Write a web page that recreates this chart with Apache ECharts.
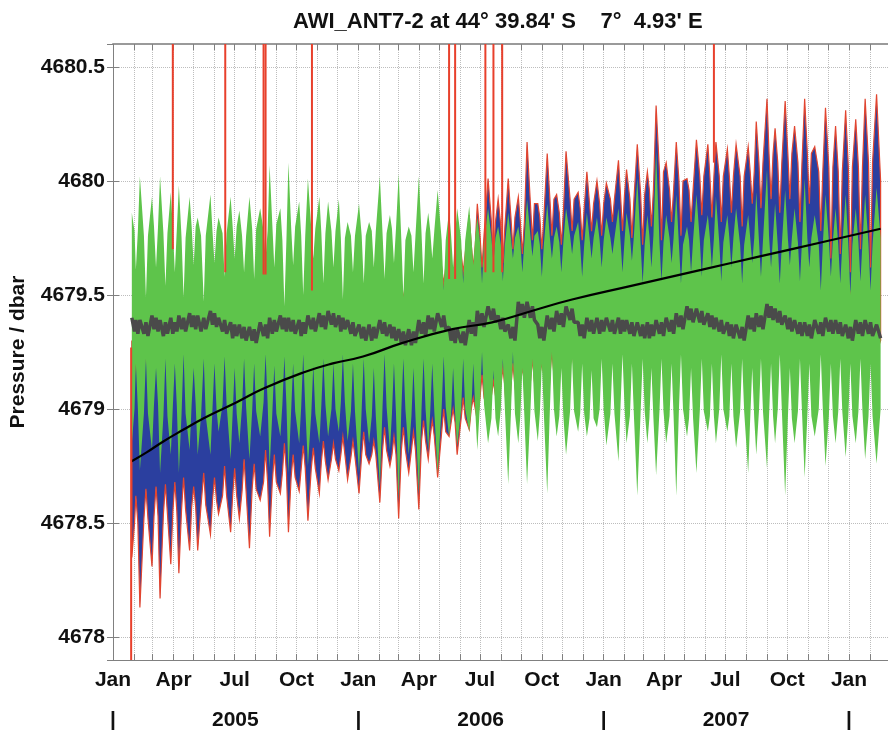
<!DOCTYPE html>
<html>
<head>
<meta charset="utf-8">
<title>AWI_ANT7-2</title>
<script src="https://cdn.jsdelivr.net/npm/echarts@6.0.0/dist/echarts.min.js"></script>
<style>
    html, body { margin: 0; padding: 0; background: #fff; }
    #chart { width: 888px; height: 731px; }
</style>
</head>
<body>
<div id="chart"></div>
<script>
    // x values are days since 1 Jan 2005
    // tidal envelope read at each spring tide (last entry = end of record)
    var springDay = [
        28, 40, 58, 70, 86, 98, 114, 126, 145, 157, 175, 188, 203, 219, 233, 249, 261, 277, 290, 307,
        320, 336, 349, 366, 381, 397, 412, 425, 440, 455, 469, 483, 500, 512, 530, 542, 558, 573, 588, 603,
        616, 632, 646, 660, 674, 692, 705, 720, 734, 752, 764, 780, 795, 808, 823, 838, 854, 868, 885, 897,
        914, 927, 945, 957, 973, 985, 1000, 1014, 1029, 1044, 1060, 1075, 1090, 1105, 1119, 1136, 1142
    ];
    // neap tides, with the start and end of each neap notch
    var neapDay = [
        34, 49, 64, 78, 92, 105, 120, 135, 151, 166, 181, 195, 210, 227, 240, 255, 268, 283, 298, 313,
        328, 342, 357, 373, 388, 404, 418, 432, 447, 462, 475, 492, 506, 521, 536, 549, 566, 580, 595, 609,
        624, 638, 653, 667, 683, 698, 712, 727, 743, 758, 772, 788, 801, 816, 831, 845, 860, 876, 891, 905,
        920, 936, 951, 964, 979, 992, 1007, 1022, 1036, 1053, 1068, 1082, 1097, 1112, 1127
    ];
    var neapStart = [
        32, 46, 61, 75, 89, 102, 117, 131, 148, 163, 178, 192, 207, 224, 237, 252, 265, 280, 295, 310,
        325, 339, 354, 370, 385, 401, 415, 429, 444, 459, 472, 489, 503, 518, 533, 546, 563, 577, 592, 606,
        621, 635, 650, 664, 680, 695, 709, 724, 740, 755, 769, 785, 798, 813, 828, 842, 857, 873, 888, 902,
        917, 933, 948, 961, 976, 989, 1004, 1019, 1033, 1050, 1065, 1079, 1094, 1109, 1124
    ];
    var neapEnd = [
        37, 52, 67, 81, 95, 108, 123, 138, 154, 169, 184, 198, 213, 230, 243, 258, 271, 286, 301, 316,
        331, 345, 360, 376, 391, 407, 421, 435, 450, 465, 478, 495, 509, 524, 539, 552, 569, 583, 598, 612,
        627, 641, 656, 670, 686, 701, 715, 730, 746, 761, 775, 791, 804, 819, 834, 848, 863, 879, 894, 908,
        923, 939, 954, 967, 982, 995, 1010, 1025, 1039, 1056, 1071, 1085, 1100, 1115, 1130
    ];

    // detrended pressure (green): spring, neap and shoulder values
    var greenHiS = [
        4679.86, 4680.02, 4679.93, 4680.02, 4679.95, 4679.98, 4679.93, 4679.84, 4679.94, 4679.84,
        4679.93, 4679.87, 4679.93, 4679.88, 4680.07, 4679.88, 4680.08, 4679.91, 4680.01, 4679.93,
        4679.91, 4679.92, 4679.82, 4679.90, 4679.82, 4680.02, 4679.85, 4680.03, 4679.80, 4680.02,
        4679.86, 4679.96, 4679.87, 4679.88, 4679.89, 4679.84, 4679.88, 4679.80, 4679.86, 4679.80,
        4679.92, 4679.78, 4679.90, 4679.80, 4679.88, 4679.82, 4679.86, 4679.84, 4679.84, 4679.88,
        4679.86, 4680.01, 4679.85, 4680.13, 4679.85, 4679.94, 4679.80, 4679.94, 4679.85, 4679.93,
        4679.85, 4679.88, 4679.85, 4679.95, 4680.05, 4679.90, 4679.96, 4679.88, 4680.01, 4679.85,
        4679.94, 4679.88, 4679.94, 4679.88, 4679.94, 4679.97, 4679.75
    ];
    var greenHiN = [
        4679.61, 4679.49, 4679.62, 4679.54, 4679.60, 4679.49, 4679.63, 4679.47, 4679.64, 4679.58,
        4679.66, 4679.60, 4679.57, 4679.66, 4679.62, 4679.45, 4679.63, 4679.50, 4679.66, 4679.55,
        4679.62, 4679.48, 4679.60, 4679.55, 4679.62, 4679.57, 4679.64, 4679.49, 4679.60, 4679.55,
        4679.66, 4679.52, 4679.62, 4679.55, 4679.63, 4679.55, 4679.64, 4679.56, 4679.66, 4679.60,
        4679.67, 4679.58, 4679.66, 4679.60, 4679.68, 4679.58, 4679.66, 4679.62, 4679.68, 4679.60,
        4679.65, 4679.55, 4679.62, 4679.56, 4679.64, 4679.55, 4679.60, 4679.58, 4679.62, 4679.56,
        4679.62, 4679.55, 4679.64, 4679.58, 4679.62, 4679.55, 4679.63, 4679.56, 4679.62, 4679.52,
        4679.58, 4679.55, 4679.50, 4679.56, 4679.52
    ];
    var greenHiP = [
        4679.78, 4679.76, 4679.80, 4679.77, 4679.79, 4679.75, 4679.80, 4679.76, 4679.78, 4679.77,
        4679.80, 4679.76, 4679.79, 4679.78, 4679.81, 4679.74, 4679.80, 4679.76, 4679.79, 4679.77,
        4679.78, 4679.75, 4679.76, 4679.76, 4679.78, 4679.77, 4679.79, 4679.74, 4679.76, 4679.77,
        4679.78, 4679.74, 4679.76, 4679.74, 4679.76, 4679.73, 4679.75, 4679.72, 4679.75, 4679.73,
        4679.76, 4679.72, 4679.75, 4679.73, 4679.76, 4679.72, 4679.75, 4679.74, 4679.75, 4679.74,
        4679.76, 4679.72, 4679.76, 4679.73, 4679.75, 4679.72, 4679.74, 4679.74, 4679.75, 4679.73,
        4679.75, 4679.72, 4679.75, 4679.74, 4679.76, 4679.72, 4679.75, 4679.73, 4679.75, 4679.72,
        4679.74, 4679.72, 4679.72, 4679.73, 4679.72
    ];
    var greenLoS = [
        4678.85, 4678.73, 4678.82, 4678.72, 4678.80, 4678.72, 4678.82, 4678.80, 4678.80, 4678.90,
        4678.78, 4678.85, 4678.78, 4678.88, 4678.74, 4678.88, 4678.72, 4678.85, 4678.75, 4678.85,
        4678.88, 4678.90, 4678.86, 4678.72, 4678.85, 4678.66, 4678.82, 4678.60, 4678.80, 4678.63,
        4678.82, 4678.72, 4678.88, 4678.84, 4678.90, 4678.82, 4678.85, 4678.88, 4678.67, 4678.85,
        4678.67, 4678.86, 4678.63, 4678.88, 4678.80, 4678.90, 4678.88, 4678.92, 4678.84, 4678.77,
        4678.85, 4678.62, 4678.85, 4678.71, 4678.85, 4678.62, 4678.88, 4678.72, 4678.90, 4678.85,
        4678.90, 4678.83, 4678.72, 4678.80, 4678.74, 4678.85, 4678.62, 4678.85, 4678.70, 4678.88,
        4678.75, 4678.85, 4678.79, 4678.85, 4678.78, 4678.76, 4679.00
    ];
    var greenLoN = [
        4679.20, 4679.22, 4679.18, 4679.22, 4679.20, 4679.24, 4679.18, 4679.22, 4679.20, 4679.23,
        4679.18, 4679.22, 4679.20, 4679.24, 4679.19, 4679.23, 4679.20, 4679.24, 4679.19, 4679.22,
        4679.20, 4679.24, 4679.20, 4679.22, 4679.18, 4679.24, 4679.20, 4679.22, 4679.18, 4679.22,
        4679.20, 4679.23, 4679.18, 4679.22, 4679.20, 4679.25, 4679.17, 4679.22, 4679.25, 4679.18,
        4679.22, 4679.20, 4679.25, 4679.18, 4679.22, 4679.20, 4679.17, 4679.22, 4679.20, 4679.24,
        4679.20, 4679.22, 4679.18, 4679.22, 4679.20, 4679.24, 4679.18, 4679.22, 4679.20, 4679.24,
        4679.20, 4679.22, 4679.18, 4679.22, 4679.20, 4679.24, 4679.18, 4679.22, 4679.20, 4679.24,
        4679.20, 4679.22, 4679.20, 4679.22, 4679.20
    ];
    var greenLoP = [
        4679.00, 4678.98, 4679.02, 4678.97, 4679.01, 4678.98, 4679.02, 4678.97, 4679.00, 4679.02,
        4678.98, 4679.01, 4678.99, 4679.03, 4678.98, 4679.02, 4678.99, 4679.01, 4678.98, 4679.02,
        4679.00, 4679.03, 4678.99, 4679.00, 4678.97, 4679.01, 4678.98, 4679.00, 4678.97, 4679.00,
        4678.99, 4679.01, 4678.98, 4679.00, 4678.99, 4679.02, 4678.96, 4679.00, 4678.98, 4678.97,
        4678.99, 4678.98, 4679.00, 4678.97, 4678.99, 4678.98, 4678.96, 4679.00, 4678.98, 4679.01,
        4678.97, 4678.99, 4678.96, 4678.99, 4678.97, 4679.00, 4678.96, 4678.99, 4678.97, 4679.00,
        4678.97, 4678.99, 4678.96, 4678.99, 4678.97, 4679.00, 4678.96, 4678.99, 4678.97, 4679.00,
        4678.97, 4678.99, 4678.97, 4678.99, 4678.97
    ];

    // measured pressure (blue)
    var blueHiS = [
        4679.30, 4679.35, 4679.32, 4679.38, 4679.35, 4679.38, 4679.36, 4679.38, 4679.40, 4679.40,
        4679.42, 4679.42, 4679.45, 4679.45, 4679.48, 4679.48, 4679.50, 4679.50, 4679.52, 4679.52,
        4679.55, 4679.55, 4679.55, 4679.60, 4679.60, 4679.65, 4679.62, 4679.68, 4679.62, 4679.72,
        4679.68, 4679.75, 4679.75, 4679.80, 4679.85, 4679.90, 4680.01, 4679.92, 4680.01, 4679.93,
        4680.17, 4679.90, 4680.12, 4679.94, 4680.13, 4679.95, 4680.04, 4680.00, 4679.99, 4680.09,
        4680.05, 4680.16, 4680.04, 4680.33, 4680.08, 4680.17, 4680.01, 4680.18, 4680.16, 4680.17,
        4680.14, 4680.16, 4680.15, 4680.26, 4680.36, 4680.23, 4680.35, 4680.24, 4680.36, 4680.15,
        4680.32, 4680.24, 4680.31, 4680.27, 4680.36, 4680.38, 4680.00
    ];
    var blueHiN = [
        4679.25, 4679.27, 4679.24, 4679.28, 4679.26, 4679.30, 4679.25, 4679.30, 4679.28, 4679.32,
        4679.27, 4679.33, 4679.30, 4679.35, 4679.30, 4679.36, 4679.32, 4679.38, 4679.35, 4679.40,
        4679.38, 4679.42, 4679.40, 4679.42, 4679.40, 4679.45, 4679.45, 4679.48, 4679.46, 4679.50,
        4679.52, 4679.55, 4679.56, 4679.60, 4679.62, 4679.62, 4679.66, 4679.64, 4679.70, 4679.68,
        4679.74, 4679.70, 4679.76, 4679.72, 4679.78, 4679.74, 4679.78, 4679.76, 4679.82, 4679.78,
        4679.75, 4679.72, 4679.80, 4679.74, 4679.82, 4679.76, 4679.82, 4679.85, 4679.84, 4679.82,
        4679.86, 4679.80, 4679.90, 4679.88, 4679.92, 4679.86, 4679.92, 4679.82, 4679.90, 4679.78,
        4679.66, 4679.68, 4679.60, 4679.70, 4679.62
    ];
    var blueHiP = [
        4679.15, 4679.17, 4679.18, 4679.20, 4679.20, 4679.22, 4679.22, 4679.24, 4679.25, 4679.27,
        4679.28, 4679.30, 4679.30, 4679.32, 4679.33, 4679.35, 4679.36, 4679.38, 4679.40, 4679.42,
        4679.43, 4679.45, 4679.46, 4679.48, 4679.50, 4679.52, 4679.53, 4679.55, 4679.56, 4679.58,
        4679.60, 4679.62, 4679.64, 4679.68, 4679.72, 4679.76, 4679.82, 4679.80, 4679.84, 4679.82,
        4679.90, 4679.84, 4679.92, 4679.86, 4679.92, 4679.88, 4679.90, 4679.90, 4679.92, 4679.94,
        4679.92, 4679.94, 4679.96, 4680.04, 4679.96, 4680.00, 4679.96, 4680.02, 4680.02, 4680.02,
        4680.02, 4680.02, 4680.04, 4680.08, 4680.12, 4680.08, 4680.12, 4680.08, 4680.12, 4680.04,
        4680.06, 4680.04, 4680.06, 4680.06, 4680.08
    ];
    var blueLoS = [
        4678.35, 4678.13, 4678.31, 4678.17, 4678.32, 4678.28, 4678.38, 4678.38, 4678.45, 4678.54,
        4678.46, 4678.52, 4678.39, 4678.60, 4678.44, 4678.63, 4678.46, 4678.64, 4678.51, 4678.63,
        4678.69, 4678.73, 4678.69, 4678.63, 4678.76, 4678.59, 4678.75, 4678.52, 4678.72, 4678.56,
        4678.78, 4678.70, 4678.88, 4678.80, 4678.91, 4678.95, 4678.98, 4679.00, 4678.85, 4679.00,
        4678.90, 4679.00, 4678.90, 4679.05, 4679.00, 4679.08, 4679.05, 4679.10, 4679.05, 4679.00,
        4679.10, 4679.00, 4679.15, 4679.05, 4679.20, 4679.00, 4679.20, 4679.10, 4679.25, 4679.20,
        4679.25, 4679.20, 4679.15, 4679.20, 4679.15, 4679.25, 4679.10, 4679.25, 4679.15, 4679.30,
        4679.20, 4679.30, 4679.20, 4679.30, 4679.25, 4679.25, 4679.30
    ];
    var blueLoN = [
        4678.62, 4678.65, 4678.66, 4678.67, 4678.68, 4678.70, 4678.66, 4678.72, 4678.70, 4678.75,
        4678.74, 4678.78, 4678.76, 4678.82, 4678.80, 4678.85, 4678.80, 4678.84, 4678.83, 4678.86,
        4678.85, 4678.88, 4678.86, 4678.90, 4678.86, 4678.92, 4678.88, 4678.92, 4678.90, 4678.95,
        4678.95, 4679.00, 4679.00, 4679.05, 4679.05, 4679.15, 4679.12, 4679.18, 4679.20, 4679.18,
        4679.22, 4679.20, 4679.25, 4679.20, 4679.25, 4679.25, 4679.25, 4679.28, 4679.30, 4679.30,
        4679.30, 4679.32, 4679.30, 4679.35, 4679.32, 4679.35, 4679.35, 4679.40, 4679.40, 4679.42,
        4679.42, 4679.42, 4679.45, 4679.45, 4679.45, 4679.48, 4679.48, 4679.50, 4679.50, 4679.50,
        4679.50, 4679.52, 4679.50, 4679.52, 4679.50
    ];
    var blueLoP = [
        4678.50, 4678.52, 4678.53, 4678.54, 4678.55, 4678.56, 4678.57, 4678.58, 4678.60, 4678.62,
        4678.62, 4678.64, 4678.65, 4678.68, 4678.68, 4678.72, 4678.70, 4678.74, 4678.74, 4678.77,
        4678.78, 4678.80, 4678.79, 4678.80, 4678.80, 4678.82, 4678.80, 4678.82, 4678.82, 4678.86,
        4678.88, 4678.90, 4678.94, 4678.96, 4679.00, 4679.05, 4679.06, 4679.10, 4679.10, 4679.12,
        4679.12, 4679.15, 4679.15, 4679.16, 4679.18, 4679.20, 4679.20, 4679.22, 4679.22, 4679.22,
        4679.24, 4679.24, 4679.26, 4679.26, 4679.28, 4679.26, 4679.30, 4679.30, 4679.32, 4679.34,
        4679.34, 4679.34, 4679.35, 4679.36, 4679.36, 4679.38, 4679.38, 4679.40, 4679.40, 4679.42,
        4679.42, 4679.44, 4679.42, 4679.44, 4679.42
    ];

    // detided residual (grey), one value per point of the tide grid
    var residVal = [
        4679.40, 4679.34, 4679.39, 4679.33, 4679.39, 4679.33, 4679.38, 4679.32, 4679.41, 4679.35, 4679.40, 4679.34, 4679.39, 4679.32, 4679.38, 4679.33,
        4679.40, 4679.33, 4679.38, 4679.34, 4679.41, 4679.35, 4679.40, 4679.34, 4679.42, 4679.36, 4679.41, 4679.35, 4679.41, 4679.34, 4679.40, 4679.35,
        4679.43, 4679.37, 4679.42, 4679.36, 4679.40, 4679.34, 4679.39, 4679.33, 4679.38, 4679.31, 4679.37, 4679.32, 4679.37, 4679.31, 4679.36, 4679.30,
        4679.36, 4679.30, 4679.35, 4679.29, 4679.38, 4679.32, 4679.37, 4679.31, 4679.40, 4679.33, 4679.39, 4679.34, 4679.41, 4679.35, 4679.40, 4679.34,
        4679.40, 4679.34, 4679.39, 4679.33, 4679.39, 4679.32, 4679.38, 4679.33, 4679.41, 4679.35, 4679.40, 4679.34, 4679.42, 4679.36, 4679.41, 4679.35,
        4679.43, 4679.37, 4679.42, 4679.36, 4679.41, 4679.34, 4679.40, 4679.35, 4679.39, 4679.33, 4679.38, 4679.32, 4679.37, 4679.31, 4679.36, 4679.30,
        4679.37, 4679.30, 4679.36, 4679.31, 4679.39, 4679.33, 4679.38, 4679.32, 4679.37, 4679.31, 4679.36, 4679.30, 4679.35, 4679.29, 4679.34, 4679.28,
        4679.35, 4679.28, 4679.34, 4679.29, 4679.39, 4679.33, 4679.38, 4679.32, 4679.41, 4679.35, 4679.40, 4679.34, 4679.42, 4679.36, 4679.41, 4679.35,
        4679.36, 4679.30, 4679.35, 4679.29, 4679.35, 4679.29, 4679.34, 4679.28, 4679.39, 4679.33, 4679.38, 4679.32, 4679.43, 4679.37, 4679.42, 4679.36,
        4679.45, 4679.39, 4679.44, 4679.38, 4679.41, 4679.35, 4679.40, 4679.34, 4679.37, 4679.31, 4679.36, 4679.30, 4679.47, 4679.41, 4679.46, 4679.40,
        4679.47, 4679.40, 4679.45, 4679.39, 4679.37, 4679.31, 4679.36, 4679.30, 4679.41, 4679.35, 4679.40, 4679.34, 4679.43, 4679.37, 4679.42, 4679.36,
        4679.45, 4679.39, 4679.44, 4679.38, 4679.38, 4679.32, 4679.37, 4679.31, 4679.40, 4679.34, 4679.39, 4679.33, 4679.40, 4679.33, 4679.39, 4679.34,
        4679.40, 4679.34, 4679.39, 4679.33, 4679.40, 4679.33, 4679.39, 4679.34, 4679.39, 4679.33, 4679.38, 4679.32, 4679.38, 4679.32, 4679.37, 4679.31,
        4679.38, 4679.31, 4679.37, 4679.32, 4679.39, 4679.33, 4679.38, 4679.32, 4679.40, 4679.34, 4679.39, 4679.33, 4679.42, 4679.36, 4679.41, 4679.35,
        4679.45, 4679.39, 4679.44, 4679.38, 4679.44, 4679.38, 4679.43, 4679.37, 4679.42, 4679.36, 4679.41, 4679.35, 4679.40, 4679.34, 4679.39, 4679.33,
        4679.38, 4679.32, 4679.37, 4679.31, 4679.37, 4679.31, 4679.36, 4679.30, 4679.41, 4679.35, 4679.40, 4679.34, 4679.42, 4679.36, 4679.41, 4679.35,
        4679.46, 4679.40, 4679.45, 4679.39, 4679.44, 4679.38, 4679.43, 4679.37, 4679.41, 4679.35, 4679.40, 4679.34, 4679.39, 4679.33, 4679.38, 4679.32,
        4679.38, 4679.32, 4679.37, 4679.31, 4679.39, 4679.33, 4679.38, 4679.32, 4679.40, 4679.34, 4679.39, 4679.33, 4679.39, 4679.33, 4679.38, 4679.32,
        4679.37, 4679.31, 4679.36, 4679.30, 4679.39, 4679.33, 4679.38, 4679.32, 4679.39, 4679.33, 4679.38, 4679.32,
        4679.37, 4679.31
    ];

    // fitted drift (black)
    var trendDay = [27, 50, 76, 105, 135, 184, 224, 283, 327, 372, 431, 505, 564, 623, 683, 771, 875, 964, 1053, 1142];
    var trendVal = [4678.77, 4678.81, 4678.86, 4678.91, 4678.96, 4679.03, 4679.09, 4679.16, 4679.20, 4679.23,
        4679.29, 4679.35, 4679.38, 4679.43, 4679.48, 4679.54, 4679.61, 4679.67, 4679.73, 4679.79];

    // raw outliers (red vertical lines)
    var spikeDay = [27, 89, 167, 224, 227, 296, 500, 509, 554, 566, 579, 894];
    var spikeLow = [4677.8, 4679.70, 4679.60, 4679.59, 4679.59, 4679.52, 4679.57, 4679.57, 4679.60, 4679.60, 4679.60, 4680.08];
    var spikeHigh = [4679.27, 4681, 4681, 4681, 4681, 4681, 4681, 4681, 4681, 4681, 4681, 4681];

    var monthNames = ['Jan', 'Feb', 'Mar', 'Apr', 'May', 'Jun', 'Jul', 'Aug', 'Sep', 'Oct', 'Nov', 'Dec'];
    var yearTickDay = [0, 182, 365, 547, 730, 912, 1095];
    var yearTickText = ['|', '2005', '|', '2006', '|', '2007', '|'];

    var DAY = 86400000;
    var T0 = Date.UTC(2005, 0, 1);
    var X_MAX = 1153;

    var monthDays = [];
    var quarterDays = [];
    for (var y = 2005; y <= 2008; y++) {
        for (var m = 0; m < 12; m++) {
            var md = (Date.UTC(y, m, 1) - T0) / DAY;
            if (md > X_MAX) break;
            monthDays.push(md);
            if (m % 3 === 0) quarterDays.push(md);
        }
    }

    // put spring, shoulder, neap, shoulder in time order
    function merge(s, n, p) {
        var out = [];
        for (var i = 0; i < s.length; i++) {
            out.push(s[i]);
            if (i < n.length) {
                out.push(p[i], n[i], p[i]);
            }
        }
        return out;
    }
    var tideDay = [];
    for (var k = 0; k < springDay.length; k++) {
        tideDay.push(springDay[k]);
        if (k < neapDay.length) {
            tideDay.push(neapStart[k], neapDay[k], neapEnd[k]);
        }
    }
    var greenHi = merge(greenHiS, greenHiN, greenHiP);
    var greenLo = merge(greenLoS, greenLoN, greenLoP);
    var blueHi = merge(blueHiS, blueHiN, blueHiP);
    var blueLo = merge(blueLoS, blueLoN, blueLoP);

    var font = "'Liberation Sans', Arial, Helvetica, sans-serif";
    var txt = {fontFamily: font, fontSize: 21, fontWeight: 'bold', color: '#111'};
    var axisGrey = '#808080';

    function band(hi, lo, fill, stroke) {
        return function (params, api) {
            if (params.dataIndex !== 0) return null;
            var pts = [];
            for (var i = 0; i < tideDay.length; i++) {
                pts.push(api.coord([tideDay[i], hi[i]]));
            }
            for (var j = tideDay.length - 1; j >= 0; j--) {
                pts.push(api.coord([tideDay[j], lo[j]]));
            }
            return {
                type: 'polygon',
                shape: {points: pts},
                style: {fill: fill, stroke: stroke || null, lineWidth: stroke ? 1.2 : 0}
            };
        };
    }

    var chart = echarts.init(document.getElementById('chart'));

    var option = {
        animation: false,
        backgroundColor: '#fff',
        title: {
            text: "AWI_ANT7-2 at 44° 39.84' S    7°  4.93' E",
            left: 288,
            top: 6,
            textStyle: {fontFamily: font, fontSize: 22, fontWeight: 'bold', color: '#111'}
        },
        grid: {left: 109, right: 0, top: 44, bottom: 71},
        xAxis: [{
            type: 'value',
            min: 0,
            max: X_MAX,
            position: 'bottom',
            axisLine: {lineStyle: {color: axisGrey, width: 1}},
            axisTick: {inside: true, length: 6, customValues: monthDays, lineStyle: {color: axisGrey}},
            axisLabel: Object.assign({
                customValues: quarterDays,
                margin: 10,
                formatter: function (v) {
                    return monthNames[new Date(T0 + v * DAY).getUTCMonth()];
                }
            }, txt),
            splitLine: {show: true, lineStyle: {color: '#bdbdbd', type: 'dotted', width: 1}}
        }, {
            type: 'value',
            min: 0,
            max: X_MAX,
            position: 'bottom',
            offset: 40,
            axisLine: {show: false},
            axisTick: {show: false},
            splitLine: {show: false},
            axisLabel: Object.assign({
                customValues: yearTickDay,
                margin: 10,
                formatter: function (v) {
                    var k = yearTickDay.indexOf(Math.round(v));
                    return k >= 0 ? yearTickText[k] : '';
                }
            }, txt)
        }, {
            type: 'value',
            min: 0,
            max: X_MAX,
            position: 'top',
            axisLine: {lineStyle: {color: '#9a9a9a', width: 2}},
            axisTick: {inside: true, length: 6, customValues: monthDays, lineStyle: {color: axisGrey}},
            axisLabel: {show: false},
            splitLine: {show: false}
        }],
        yAxis: [{
            type: 'value',
            min: 4677.9,
            max: 4680.6,
            position: 'left',
            name: 'Pressure / dbar',
            nameLocation: 'middle',
            nameGap: 84,
            nameTextStyle: {fontFamily: font, fontSize: 21, fontWeight: 'bold', color: '#111'},
            axisLine: {show: true, lineStyle: {color: axisGrey, width: 1}},
            axisTick: {show: true, inside: true, length: 6, lineStyle: {color: axisGrey}},
            axisLabel: Object.assign({
                margin: 8,
                showMinLabel: false,
                showMaxLabel: false,
                formatter: function (v) {
                    return String(+v.toFixed(1));
                }
            }, txt),
            splitLine: {show: true, lineStyle: {color: '#bdbdbd', type: 'dotted', width: 1}}
        }, {
            type: 'value',
            min: 4677.9,
            max: 4680.6,
            position: 'right',
            axisLine: {show: true, lineStyle: {color: axisGrey, width: 1}},
            axisTick: {show: true, inside: true, length: 6, lineStyle: {color: axisGrey}},
            axisLabel: {show: false},
            splitLine: {show: false}
        }],
        series: [{
            name: 'measured',
            type: 'custom',
            clip: true,
            z: 1,
            renderItem: band(blueHi, blueLo, '#2b3f9f', '#e2452f'),
            encode: {x: 0, y: 1},
            data: [[tideDay[0], blueHi[0]]]
        }, {
            name: 'detrended',
            type: 'custom',
            clip: true,
            z: 2,
            renderItem: band(greenHi, greenLo, '#5ec44b'),
            encode: {x: 0, y: 1},
            data: [[tideDay[0], greenHi[0]]]
        }, {
            name: 'residual',
            type: 'line',
            z: 3,
            showSymbol: false,
            lineStyle: {color: '#4a4a4a', width: 3.5},
            data: tideDay.map(function (d, i) { return [d, residVal[i]]; })
        }, {
            name: 'drift',
            type: 'line',
            z: 4,
            smooth: true,
            showSymbol: false,
            lineStyle: {color: '#000', width: 2.2},
            data: trendDay.map(function (d, i) { return [d, trendVal[i]]; })
        }, {
            name: 'outliers',
            type: 'custom',
            clip: true,
            z: 5,
            encode: {x: 0, y: 1},
            renderItem: function (params, api) {
                var p1 = api.coord([api.value(0), api.value(1)]);
                var p2 = api.coord([api.value(0), api.value(2)]);
                return {
                    type: 'line',
                    shape: {x1: p1[0], y1: p1[1], x2: p2[0], y2: p2[1]},
                    style: {stroke: '#e8402c', lineWidth: 2}
                };
            },
            data: spikeDay.map(function (d, i) { return [d, spikeLow[i], spikeHigh[i]]; })
        }]
    };

    chart.setOption(option);
</script>
</body>
</html>
